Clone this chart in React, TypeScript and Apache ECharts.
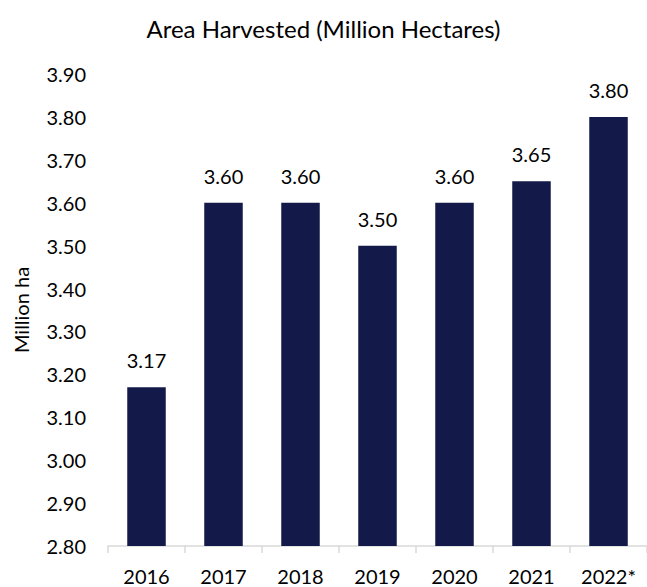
import React, { useEffect, useRef } from "react";
import * as echarts from "echarts";

const categories = ["2016", "2017", "2018", "2019", "2020", "2021", "2022*"];
const values = [3.17, 3.6, 3.6, 3.5, 3.6, 3.65, 3.8];
const titleText = "Area Harvested (Million Hectares)";
const yAxisName = "Million ha";

export default function App() {
  const ref = useRef<HTMLDivElement>(null);
  useEffect(() => {
    const chart = echarts.init(ref.current!, null, { renderer: "svg" });
    const font = "Lato";
    chart.setOption({
      animation: false,
      backgroundColor: "#ffffff",
      title: {
        text: titleText,
        left: "center",
        top: 11,
        textStyle: { fontFamily: font, fontSize: 24, fontWeight: "normal", color: "#000" },
      },
      grid: { left: 108, top: 74, width: 542, height: 472 },
      xAxis: {
        type: "category",
        data: categories,
        axisLine: { show: true, lineStyle: { color: "#d9d9d9", width: 1.5 } },
        axisTick: { show: true, length: 7, lineStyle: { color: "#d9d9d9", width: 1.5 } },
        axisLabel: { fontFamily: font, fontSize: 20, color: "#000", margin: 20 },
      },
      yAxis: {
        type: "value",
        min: 2.8,
        max: 3.9,
        interval: 0.1,
        name: yAxisName,
        nameLocation: "middle",
        nameGap: 77,
        nameTextStyle: { fontFamily: font, fontSize: 20, color: "#000" },
        axisLine: { show: false },
        axisTick: { show: false },
        splitLine: { show: false },
        axisLabel: {
          fontFamily: font,
          fontSize: 20,
          color: "#000",
          margin: 22,
          formatter: (v: number) => v.toFixed(2),
        },
      },
      series: [
        {
          type: "bar",
          data: values,
          barWidth: "50%",
          itemStyle: { color: "#131A49" },
          label: {
            show: true,
            position: "top",
            distance: 17,
            fontFamily: font,
            fontSize: 20,
            color: "#000",
            formatter: (p: any) => Number(p.value).toFixed(2),
          },
        },
      ],
    });
    return () => chart.dispose();
  }, []);
  return (
    <div
      ref={ref}
      style={{ position: "fixed", left: 0, top: 0, width: 647, height: 587 }}
    />
  );
}
